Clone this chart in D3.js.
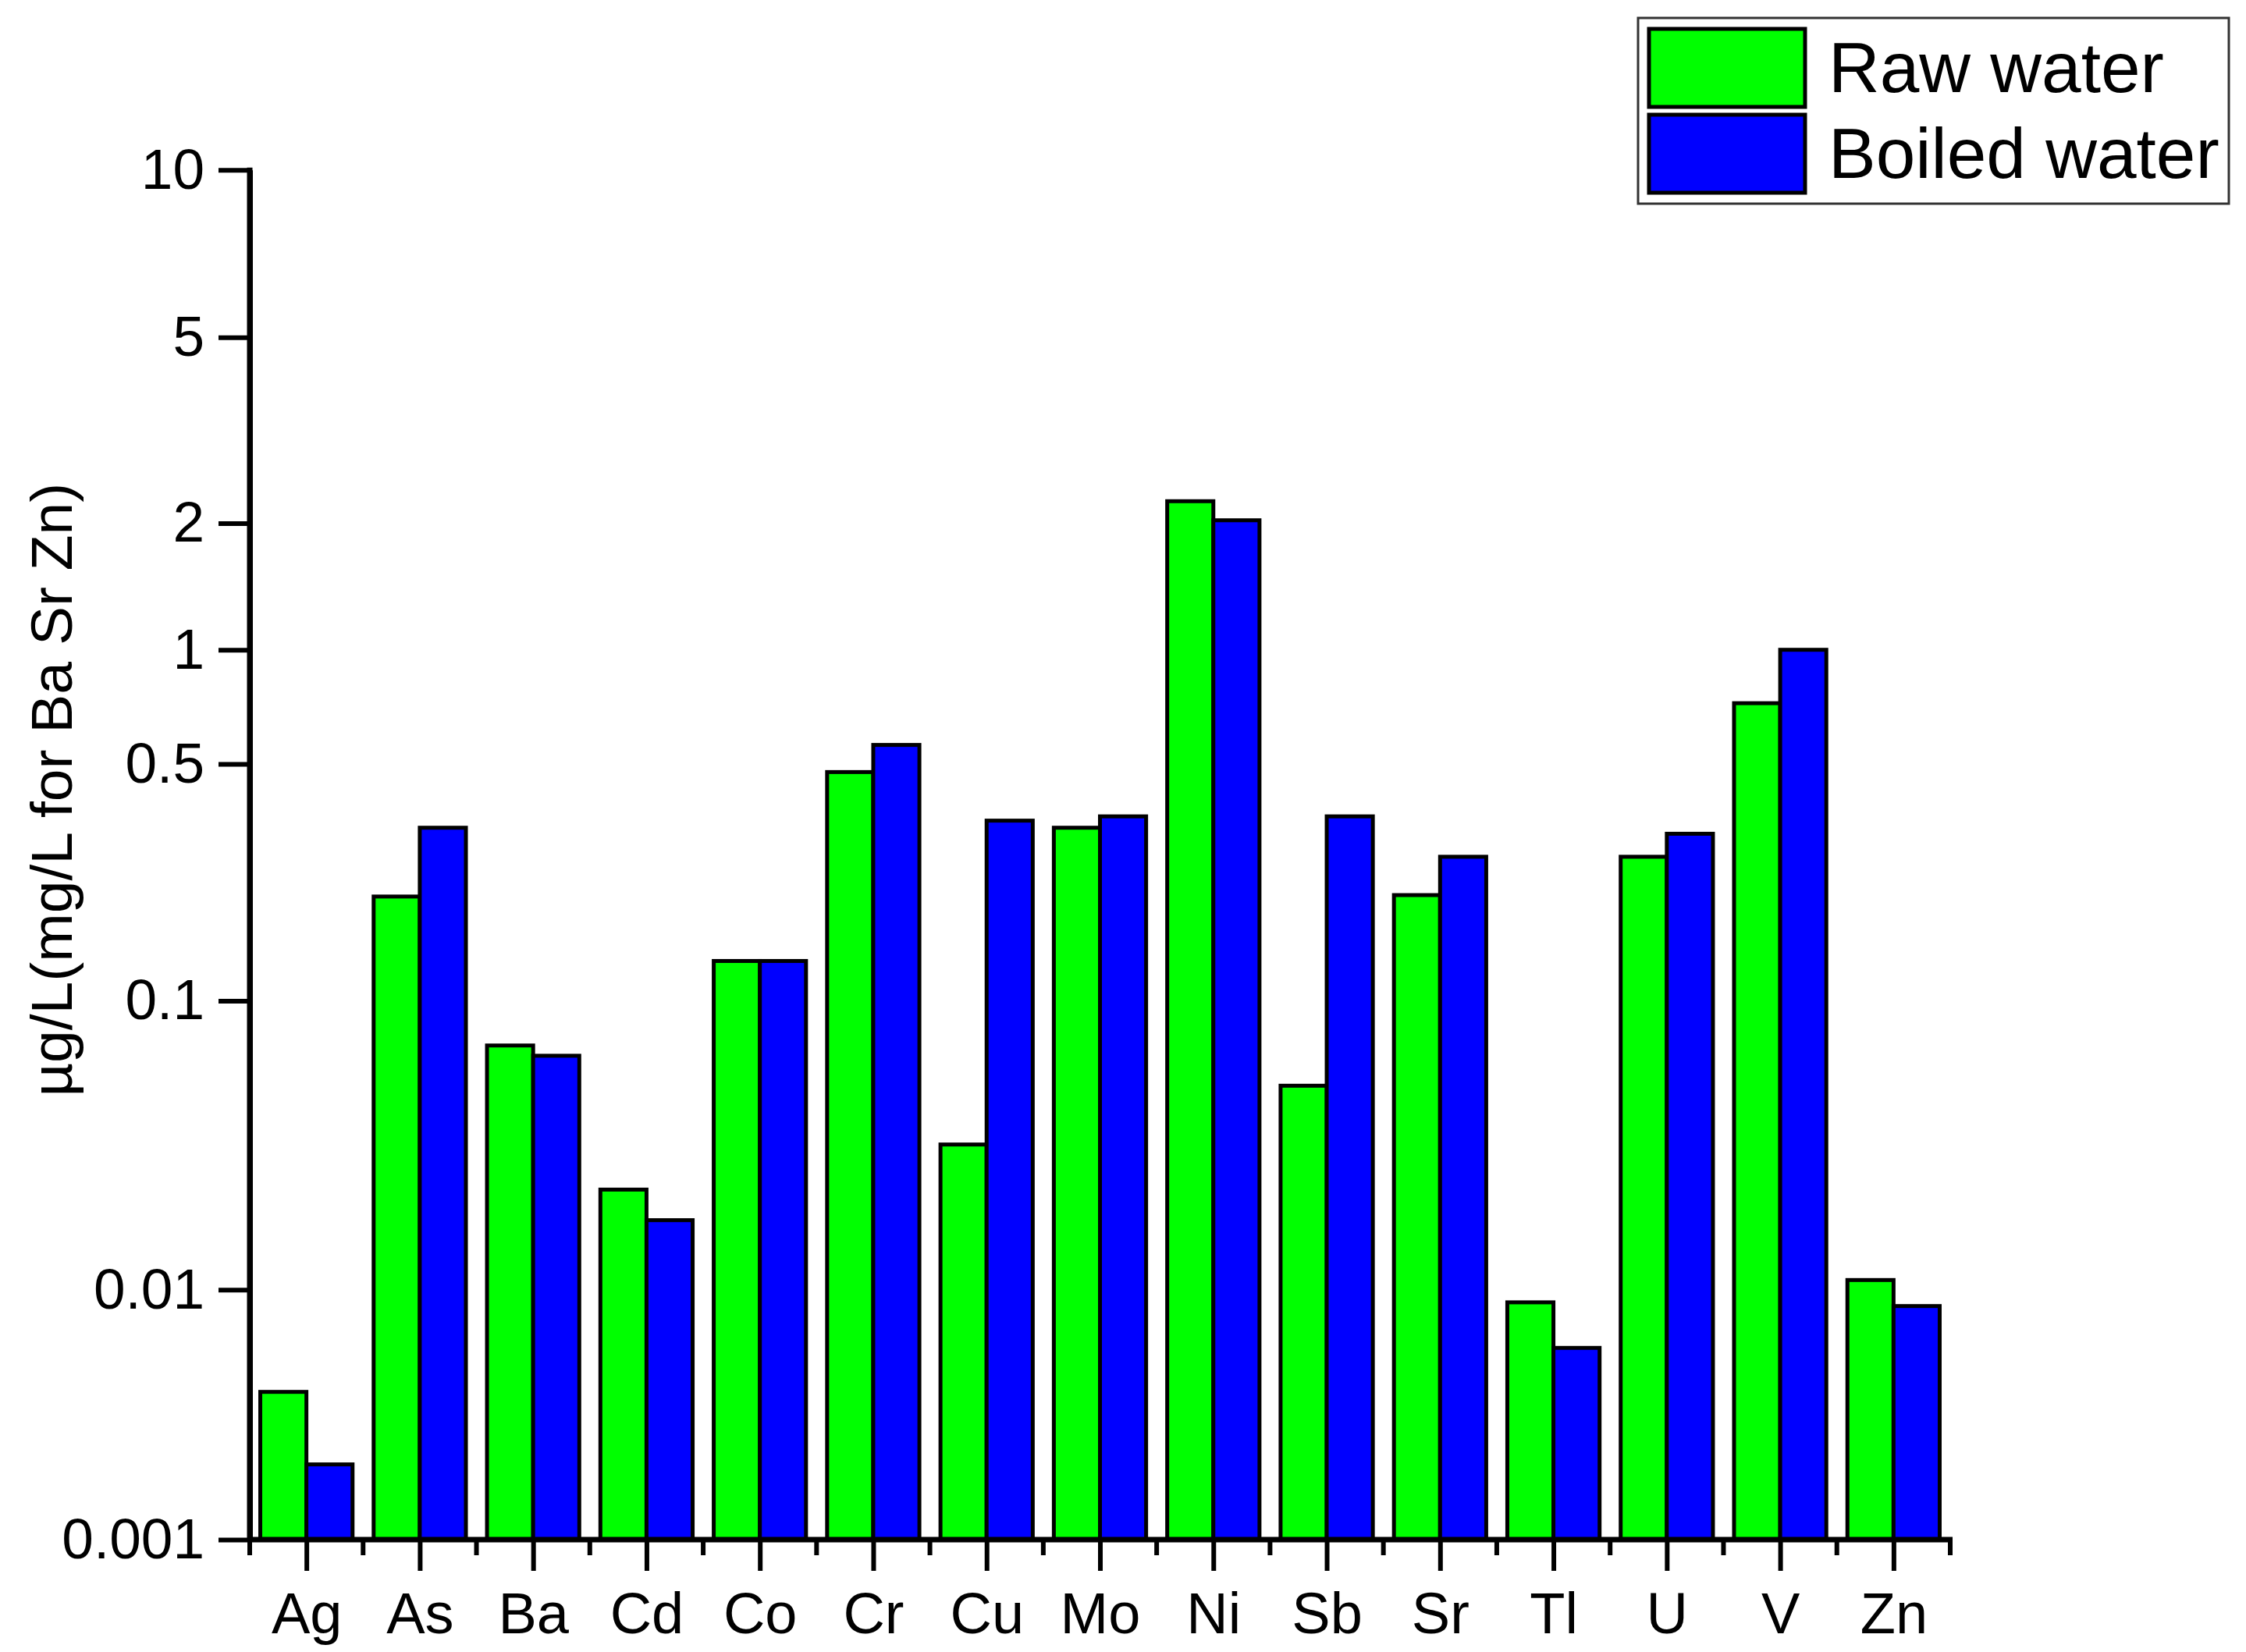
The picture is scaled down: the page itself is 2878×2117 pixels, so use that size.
<!DOCTYPE html>
<html>
<head>
<meta charset="utf-8">
<script src="https://cdn.jsdelivr.net/npm/d3@7"></script>
<style>
  html, body { margin: 0; padding: 0; background: #fff; }
  svg { display: block; }
  text { font-family: "Liberation Sans", Arial, sans-serif; fill: #000; }
</style>
</head>
<body>
<svg id="chart" width="2878" height="2117"></svg>
<script>
// ---------------- data ----------------
const categories = ["Ag", "As", "Ba", "Cd", "Co", "Cr", "Cu", "Mo", "Ni", "Sb", "Sr", "Tl", "U", "V", "Zn"];
const seriesNames = ["Raw water", "Boiled water"];
const rawWater    = [0.0039, 0.203, 0.070, 0.0222, 0.131, 0.473, 0.0318, 0.324, 2.23, 0.0508, 0.205, 0.0089, 0.266, 0.723, 0.0108];
const boiledWater = [0.0020, 0.324, 0.0645, 0.0174, 0.131, 0.561, 0.340, 0.350, 2.03, 0.350, 0.266, 0.00585, 0.311, 1.0, 0.0086];
const yTickValues = [0.001, 0.01, 0.1, 0.5, 1, 2, 5, 10];
const yTickLabels = ["0.001", "0.01", "0.1", "0.5", "1", "2", "5", "10"];
const yTitle = "µg/L(mg/L for Ba Sr Zn)";

// ---------------- layout ----------------
const colors = ["#00ff00", "#0000ff"];
const xLeft = 320, xRight = 2499, yBottom = 1973;
// pixel positions of the (non-uniform) value axis breakpoints, matching yTickValues
const yBreakPx = [1973, 1652.7, 1282.4, 978.9, 832.7, 670.6, 432.2, 217.8];

const svg = d3.select("#chart");

const yLin = d3.scaleLinear().domain(yTickValues.map(Math.log10)).range(yBreakPx);
const yPos = v => yLin(Math.log10(v));

const x0 = d3.scaleBand().domain(categories).range([xLeft, xRight]).paddingInner(0.186).paddingOuter(0.093);
const x1 = d3.scaleBand().domain(seriesNames).range([0, x0.bandwidth()]);

const series = [rawWater, boiledWater];

// bars
const g = svg.append("g");
seriesNames.forEach((name, si) => {
  g.selectAll(null)
    .data(categories.map((c, i) => ({ c, v: series[si][i] })))
    .enter().append("rect")
    .attr("x", d => x0(d.c) + x1(name))
    .attr("width", x1.bandwidth())
    .attr("y", d => yPos(d.v))
    .attr("height", d => yBottom - yPos(d.v))
    .attr("fill", colors[si])
    .attr("stroke", "#000")
    .attr("stroke-width", 5);
});

// y axis
const yAxis = d3.axisLeft(yLin)
  .tickValues(yTickValues.map(Math.log10))
  .tickFormat((d, i) => yTickLabels[i])
  .tickSize(40).tickSizeOuter(0).tickPadding(18);
const ya = svg.append("g").attr("transform", `translate(${xLeft},0)`).call(yAxis);
ya.select(".domain").attr("stroke", "#000").attr("stroke-width", 7);
ya.selectAll(".tick line").attr("stroke", "#000").attr("stroke-width", 6);
ya.selectAll(".tick text").attr("font-size", 73).attr("font-family", "Liberation Sans, Arial, sans-serif").attr("fill", "#000");

// x axis: major ticks at category centers
const xAxis = d3.axisBottom(d3.scalePoint().domain(categories).range([x0(categories[0]) + x0.bandwidth() / 2, x0(categories[categories.length - 1]) + x0.bandwidth() / 2]))
  .tickSize(40).tickSizeOuter(0).tickPadding(27);
const xa = svg.append("g").attr("transform", `translate(0,${yBottom})`).call(xAxis);
xa.select(".domain").remove();
xa.selectAll(".tick line").attr("stroke", "#000").attr("stroke-width", 6);
xa.selectAll(".tick text").attr("font-size", 74).attr("font-family", "Liberation Sans, Arial, sans-serif").attr("fill", "#000");
// minor ticks at band boundaries
const edges = categories.map(c => x0(c) - x0.step() * x0.paddingInner() / 2).concat([xRight]);
svg.append("g").selectAll("line").data(edges).enter().append("line")
  .attr("x1", d => d).attr("x2", d => d)
  .attr("y1", yBottom).attr("y2", yBottom + 20)
  .attr("stroke", "#000").attr("stroke-width", 6);
// x axis line
svg.append("line").attr("x1", xLeft - 3).attr("x2", xRight + 3).attr("y1", yBottom).attr("y2", yBottom)
  .attr("stroke", "#000").attr("stroke-width", 7);
// y axis line on top
svg.append("line").attr("x1", xLeft).attr("x2", xLeft).attr("y1", yPos(10) - 3).attr("y2", yBottom + 3)
  .attr("stroke", "#000").attr("stroke-width", 7);

// y title
svg.append("text")
  .attr("transform", `translate(92,1012) rotate(-90)`)
  .attr("text-anchor", "middle")
  .attr("font-size", 75)
  .text(yTitle);

// legend
const lg = svg.append("g");
lg.append("rect").attr("x", 2099).attr("y", 23).attr("width", 757).attr("height", 238)
  .attr("fill", "#fff").attr("stroke", "#333").attr("stroke-width", 3);
seriesNames.forEach((name, i) => {
  const top = i === 0 ? 37 : 147;
  lg.append("rect").attr("x", 2113).attr("y", top).attr("width", 200).attr("height", 100)
    .attr("fill", colors[i]).attr("stroke", "#000").attr("stroke-width", 5);
  lg.append("text").attr("x", 2343).attr("y", top + 81).attr("font-size", 91).text(name);
});
</script>
</body>
</html>
